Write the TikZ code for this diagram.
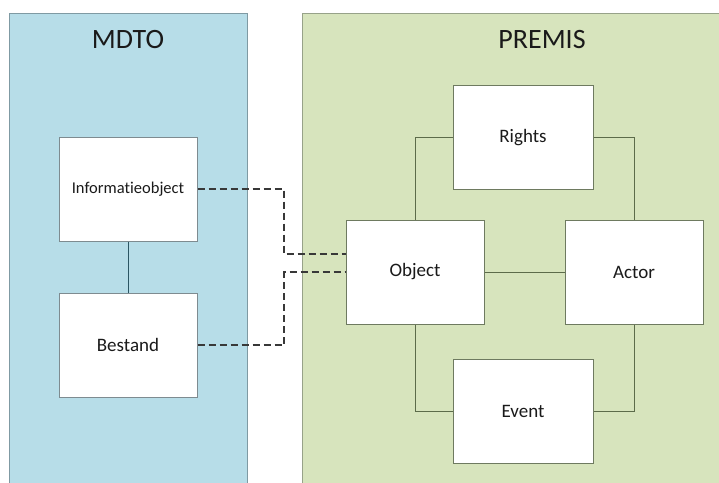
\documentclass[tikz,border=0pt]{standalone}
\usepackage{fontspec}
\setmainfont{Carlito}[Ligatures=NoCommon]
\definecolor{mdtofill}{HTML}{B7DDE8}
\definecolor{mdtoedge}{HTML}{7F9AA3}
\definecolor{premisfill}{HTML}{D7E4BD}
\definecolor{premisedge}{HTML}{97A289}
\definecolor{mdtobox}{HTML}{7E8B90}
\definecolor{premisbox}{HTML}{6E7A60}
\definecolor{mdtoline}{HTML}{2B5563}
\definecolor{premisline}{HTML}{5C6B4A}
\definecolor{dashline}{HTML}{383838}
\definecolor{labeltext}{HTML}{1A1A1A}
\begin{document}
\begin{tikzpicture}[x=1pt,y=-1pt,
  panel/.style={line width=1pt},
  entity/.style={draw, fill=white, line width=1pt, minimum width=138pt, minimum height=104pt, inner sep=0pt, text=labeltext, font=\fontsize{19}{22}\selectfont},
  mdtobox/.style={entity, draw=mdtobox},
  premisbox/.style={entity, draw=premisbox},
  link/.style={line width=1pt},
  mapping/.style={draw=dashline, line width=1.2pt, dash pattern=on 7pt off 4pt},
  title/.style={text=labeltext, font=\fontsize{28}{31}\selectfont}
]
\useasboundingbox (0,0) rectangle (719,482);
% panels
\fill[mdtofill] (9,13) rectangle (247,490);
\draw[panel, draw=mdtoedge] (9,490) -- (9,13) -- (247,13) -- (247,490);
\fill[premisfill] (302,13) rectangle (730,490);
\draw[panel, draw=premisedge] (302,490) -- (302,13) -- (730,13);
\node[title] (tmdto) at (128,40) {MDTO};
\node[title] (tpremis) at (542,40) {PREMIS};
% MDTO entities
\node[mdtobox, font=\fontsize{16.5}{20}\selectfont] (info) at (128,189) {Informatieobject};
\node[mdtobox] (bestand) at (128,345) {Bestand};
\draw[link, draw=mdtoline] (info) -- (bestand);
% PREMIS entities
\node[premisbox, minimum width=140pt] (rights) at (523,137.5) {Rights};
\node[premisbox] (object) at (415,272) {Object};
\node[premisbox] (actor) at (634,272) {Actor};
\node[premisbox, minimum width=140pt] (event) at (523,411) {Event};
\draw[link, draw=premisline] (rights.west) -| (object.north);
\draw[link, draw=premisline] (rights.east) -| (actor.north);
\draw[link, draw=premisline] (object.east) -- (actor.west);
\draw[link, draw=premisline] (object.south) |- (event.west);
\draw[link, draw=premisline] (actor.south) |- (event.east);
% mappings between the two models
\coordinate (bendA) at (284,189);
\coordinate (bendB) at (284,254);
\coordinate (bendC) at (284,345);
\coordinate (bendD) at (284,272);
\draw[mapping] (info.east) -- (bendA) -- (bendB) -- (object.west |- bendB);
\draw[mapping] (bestand.east) -- (bendC) -- (bendD) -- (object.west |- bendD);
\end{tikzpicture}
\end{document}
